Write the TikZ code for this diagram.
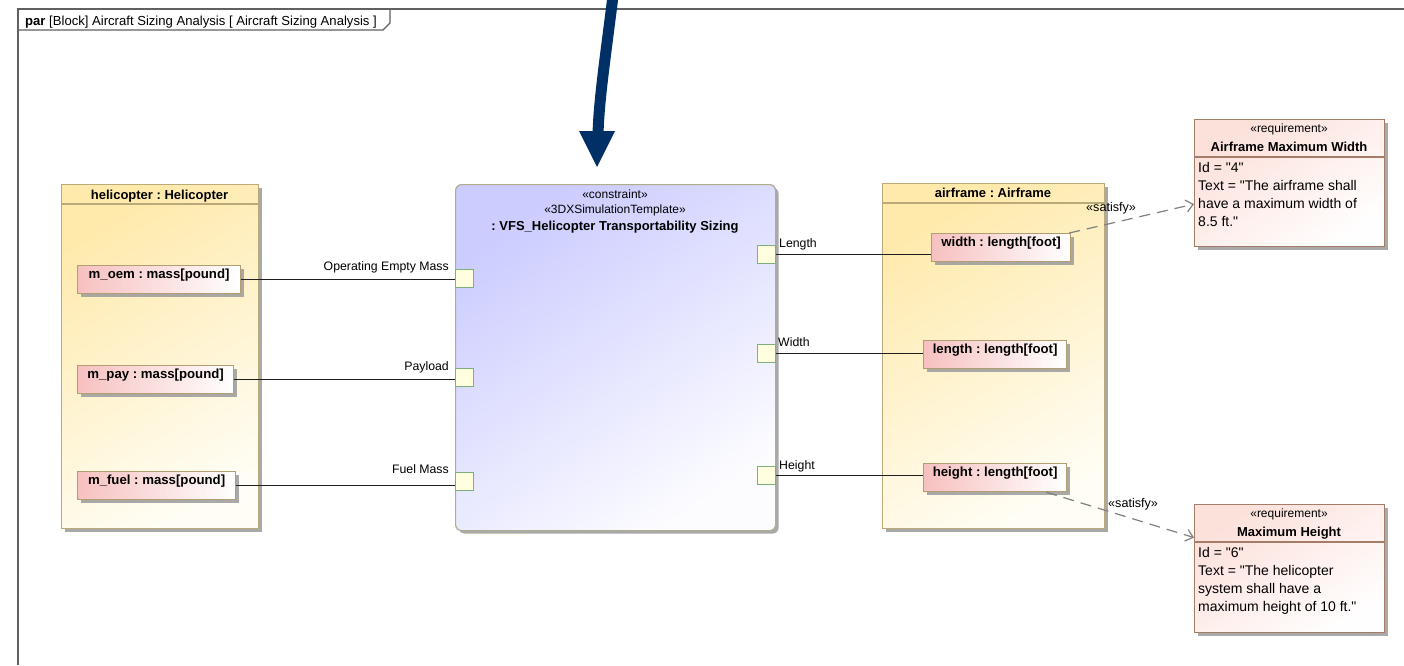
\documentclass[tikz,border=0pt]{standalone}
\usepackage{fontspec}
\setmainfont{Liberation Sans}[Ligatures=TeXOff]
\usetikzlibrary{shadows,arrows.meta}

\definecolor{frameline}{RGB}{96,96,96}
\definecolor{blkborder}{RGB}{186,170,122}
\definecolor{blktop}{RGB}{255,234,172}
\definecolor{blkbot}{RGB}{255,253,244}
\definecolor{propborder}{RGB}{178,158,112}
\definecolor{proppink}{RGB}{247,192,192}
\definecolor{cborder}{RGB}{178,172,142}
\definecolor{ctop}{RGB}{204,204,255}
\definecolor{cbot}{RGB}{252,252,255}
\definecolor{portfill}{RGB}{255,255,224}
\definecolor{portborder}{RGB}{122,178,122}
\definecolor{reqborder}{RGB}{164,124,104}
\definecolor{reqtop}{RGB}{252,224,218}
\definecolor{reqbot}{RGB}{255,254,254}
\definecolor{navy}{RGB}{0,48,102}
\definecolor{satgray}{RGB}{128,128,128}
\definecolor{shadowgray}{RGB}{160,160,160}
\definecolor{wire}{RGB}{30,30,30}

\tikzset{
  every node/.style={font=\fontsize{12}{14}\selectfont, inner sep=0pt},
  boxshadow/.style={drop shadow={shadow xshift=3pt,shadow yshift=-3pt,fill=shadowgray,opacity=0.9}},
  frame/.style={draw=frameline, line width=1.3pt},
  partblock/.style={draw=blkborder, line width=1.2pt, top color=blktop, bottom color=blkbot,
    shading angle=30, boxshadow, anchor=north west, rectangle},
  headline/.style={draw=blkborder, line width=1.2pt},
  propbox/.style={draw=propborder, line width=1.2pt, left color=proppink, right color=white,
    boxshadow, anchor=north west, minimum height=28pt, inner xsep=6pt, inner ysep=2pt,
    text height=11pt, text depth=13pt, font=\fontsize{13.2}{15}\selectfont\bfseries},
  cblock/.style={draw=cborder, line width=1.2pt, rounded corners=6pt, top color=ctop, bottom color=cbot,
    shading angle=35, boxshadow, anchor=north west},
  port/.style={draw=portborder, line width=1.2pt, fill=portfill, minimum size=18pt, anchor=north west},
  wireline/.style={draw=wire, line width=1.1pt},
  portlabel/.style={font=\fontsize{12.3}{14}\selectfont},
  stereo/.style={font=\fontsize{12}{14}\selectfont, anchor=base},
  bname/.style={font=\fontsize{13}{15}\selectfont\bfseries, anchor=base},
  reqbox/.style={draw=reqborder, line width=1.2pt, top color=reqtop, bottom color=reqbot,
    shading angle=35, boxshadow, anchor=north west, minimum width=190pt},
  reqline/.style={draw=reqborder, line width=1.2pt},
  reqbody/.style={font=\fontsize{14}{18}\selectfont, align=left, anchor=north west},
  satisfy/.style={draw=satgray, line width=1.2pt, dash pattern=on 11pt off 7pt,
    -{Straight Barb[length=7pt,width=12pt,line width=1.2pt]}},
  satlabel/.style={font=\fontsize{12.6}{14}\selectfont, anchor=base west},
}

\begin{document}
\frenchspacing
\begin{tikzpicture}[x=1pt,y=-1pt]
\useasboundingbox[fill=white] (0,0) rectangle (1404,665);

% diagram frame and its name tab
\draw[frame] (18,665) -- (18,9) -- (1404,9);
\draw[frame] (18,30) -- (383,30) -- (390,23) -- (390,9);
\node[anchor=base west, font=\fontsize{13.1}{15}\selectfont] (frametitle) at (25,25)
  {\textbf{par} [Block] Aircraft Sizing Analysis [ Aircraft Sizing Analysis ]};

% pointer arrow from above
\coordinate (arrowfrom) at (613,-4);
\coordinate (arrowshaft) at (598,134);
\coordinate (arrowtip) at (597,167);
\draw[navy, line width=11pt] (arrowfrom) .. controls (605,60) and (599,100) .. (arrowshaft);
\fill[navy] (579,131) -- (615,131) -- (arrowtip) -- cycle;

% helicopter part
\node[partblock, minimum width=197pt, minimum height=344pt] (heli) at (61,184) {};
\draw[headline] ([yshift=-20pt]heli.north west) -- ([yshift=-20pt]heli.north east);
\node[bname] (helititle) at (159.5,199) {helicopter : Helicopter};
\node[propbox, minimum width=163pt] (moem) at (77,265) {m\_oem : mass[pound]};
\node[propbox, minimum width=156pt] (mpay) at (77,365) {m\_pay : mass[pound]};
\node[propbox, minimum width=158pt] (mfuel) at (77,471) {m\_fuel : mass[pound]};

% constraint property
\node[cblock, minimum width=320pt, minimum height=346pt] (cons) at (455,184) {};
\node[stereo] (cst1) at (615,198) {«constraint»};
\node[stereo] (cst2) at (615,213) {«3DXSimulationTemplate»};
\node[bname] (cname) at (615,230) {: VFS\_Helicopter Transportability Sizing};

\node[port] (poem) at (455,269) {};
\node[port] (ppay) at (455,368) {};
\node[port] (pfuel) at (455,472) {};
\node[port] (plen) at (757,245) {};
\node[port] (pwid) at (757,344) {};
\node[port] (phgt) at (757,466) {};

\node[portlabel, anchor=base east] (loem) at (449,270) {Operating Empty Mass};
\node[portlabel, anchor=base east] (lpay) at (449,370) {Payload};
\node[portlabel, anchor=base east] (lfuel) at (449,473) {Fuel Mass};
\node[portlabel, anchor=base west] (llen) at (779,247) {Length};
\node[portlabel, anchor=base west] (lwid) at (778,346) {Width};
\node[portlabel, anchor=base west] (lhgt) at (779,469) {Height};

% airframe part
\node[partblock, minimum width=222pt, minimum height=345pt] (air) at (882,183) {};
\draw[headline] ([yshift=-20pt]air.north west) -- ([yshift=-20pt]air.north east);
\node[bname] (airtitle) at (993,197) {airframe : Airframe};
\node[propbox, minimum width=139pt] (wbox) at (931,233) {width : length[foot]};
\node[propbox, minimum width=143pt] (lbox) at (923,340) {length : length[foot]};
\node[propbox, minimum width=143pt] (hbox) at (923,463) {height : length[foot]};

% binding connectors
\draw[wireline] (moem.east) -- (moem.east -| poem.west);
\draw[wireline] (mpay.east) -- (mpay.east -| ppay.west);
\draw[wireline] (mfuel.east) -- (mfuel.east -| pfuel.west);
\draw[wireline] (plen.east) -- (plen.east -| wbox.west);
\draw[wireline] (pwid.east) -- (pwid.east -| lbox.west);
\draw[wireline] (phgt.east) -- (phgt.east -| hbox.west);

% requirements
\node[reqbox, minimum height=127pt] (req1) at (1194,119) {};
\draw[reqline] ([yshift=-38pt]req1.north west) -- ([yshift=-38pt]req1.north east);
\node[stereo] (r1st) at (1289,132) {«requirement»};
\node[bname] (r1name) at (1289,151) {Airframe Maximum Width};
\node[reqbody] (r1body) at (1198,162.6)
  {Id = "4"\\Text = "The airframe shall\\have a maximum width of\\8.5 ft."};

\node[reqbox, minimum height=128pt] (req2) at (1194,504) {};
\draw[reqline] ([yshift=-38pt]req2.north west) -- ([yshift=-38pt]req2.north east);
\node[stereo] (r2st) at (1289,517) {«requirement»};
\node[bname] (r2name) at (1289,536) {Maximum Height};
\node[reqbody] (r2body) at (1198,547.6)
  {Id = "6"\\Text = "The helicopter\\system shall have a\\maximum height of 10 ft."};

% satisfy dependencies
\draw[satisfy] ([xshift=-2pt]wbox.north east) -- ([yshift=-21pt]req1.west);
\node[satlabel] (sat1) at (1086,211) {«satisfy»};
\draw[satisfy] ([xshift=-21pt]hbox.south east) -- ([yshift=31pt]req2.west);
\node[satlabel] (sat2) at (1108,507) {«satisfy»};
\end{tikzpicture}
\end{document}
